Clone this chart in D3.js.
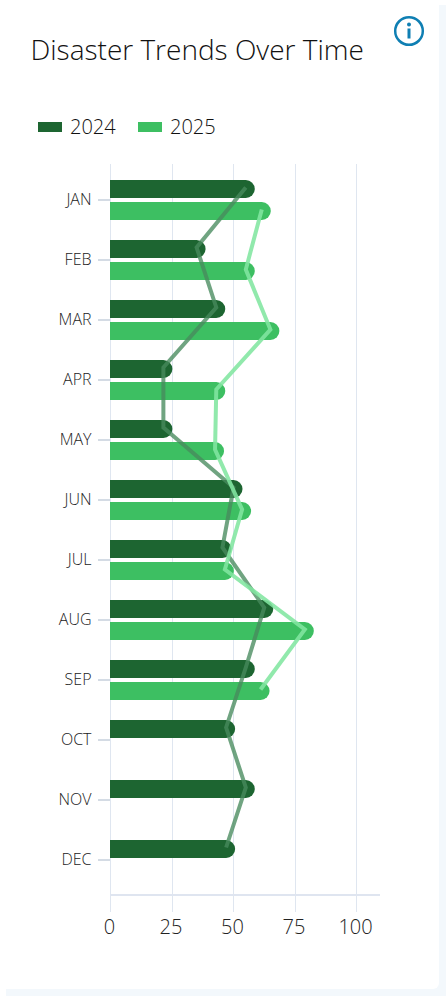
<!DOCTYPE html>
<html><head><meta charset="utf-8">
<script src="https://cdn.jsdelivr.net/npm/d3@7"></script>
<style>
html,body{margin:0;padding:0;background:#fff;width:446px;height:996px;overflow:hidden}
text{font-family:"Open Sans",sans-serif;font-weight:300}
</style></head><body>
<svg id="c" width="446" height="996"></svg>
<script>
const months=["JAN","FEB","MAR","APR","MAY","JUN","JUL","AUG","SEP","OCT","NOV","DEC"];
const years=["2024","2025"];
const values2024=[55,35,43,21.5,21.5,50,45.5,62.5,55,47,55,47];
const values2025=[61.5,55,65,43,42.5,53.5,46.5,79,61];
const xTicks=[0,25,50,75,100];
const barColors=["#1d6531","#3dbf62"];
const lineColors=["#488a5e","#82e6a0"];
const lineOpacity=[0.78,0.88];
const title="Disaster Trends Over Time";

const svg=d3.select("#c");
// page background and card
svg.append("rect").attr("width",446).attr("height",996).attr("fill","#fff");
svg.append("rect").attr("x",6).attr("y",5).attr("width",460).attr("height",1011).attr("rx",8).attr("fill","#f3f8fc");
svg.append("rect").attr("x",-12).attr("y",-12).attr("width",451).attr("height",1001).attr("rx",6).attr("fill","#fff");

svg.append("text").attr("x",30.5).attr("y",60).attr("font-size",28).attr("fill","#111").text(title);

// info icon
const icon=svg.append("g").attr("transform","translate(409,31)");
icon.append("circle").attr("r",13.8).attr("fill","none").attr("stroke","#0f7fb3").attr("stroke-width",2.5);
icon.append("circle").attr("cy",-6.5).attr("r",2).attr("fill","#0f7fb3");
icon.append("rect").attr("x",-1.5).attr("y",-2.5).attr("width",3).attr("height",10).attr("fill","#0f7fb3");

// legend
const legend=svg.append("g").selectAll("g").data(years).join("g")
  .attr("transform",(d,i)=>`translate(${38+i*100},0)`);
legend.append("rect").attr("y",122).attr("width",24).attr("height",10).attr("fill",(d,i)=>barColors[i]);
legend.append("text").attr("x",32).attr("y",134).attr("font-size",20).attr("fill","#111").text(d=>d);

const x=d3.scaleLinear().domain([0,100]).range([110.5,356.5]);
const y=d3.scaleBand().domain(months).range([170,890]);
const inner=d3.scaleBand().domain(years).range([0,40]).paddingInner(4/22);
const innerOff=(y.bandwidth()-40)/2;
const capR=inner.bandwidth()/2;

// grid
svg.append("g").selectAll("line").data(xTicks).join("line")
  .attr("x1",d=>Math.floor(x(d))+.5).attr("x2",d=>Math.floor(x(d))+.5).attr("y1",164).attr("y2",912)
  .attr("stroke","#dfe6f0").attr("stroke-width",1);

// x axis
svg.append("line").attr("x1",110).attr("x2",380).attr("y1",895).attr("y2",895)
  .attr("stroke","#dfe5f0").attr("stroke-width",2);
const xAxis=svg.append("g").attr("transform","translate(-1.5,912)")
  .call(d3.axisBottom(x).tickValues(xTicks).tickSize(0).tickPadding(7.8).tickFormat(d3.format("d")));
xAxis.select(".domain").remove();
xAxis.selectAll("text").attr("font-size",20).attr("fill","#222").attr("font-family",null);

// y axis
const yAxis=svg.append("g").attr("transform","translate(110,0)")
  .call(d3.axisLeft(y).tickSize(12).tickPadding(6.5));
yAxis.select(".domain").remove();
yAxis.selectAll("line").attr("stroke","#a9b8ca").attr("stroke-width",1);
yAxis.selectAll("text").attr("font-size",16).attr("fill","#222").attr("font-family",null);

// bars, rounded at the far end
const series=[values2024,values2025];
function barPath(v,top){
  const x0=x(0)-.5,x1=x(v),h=inner.bandwidth(),r=capR;
  return `M${x0},${top}H${x1}A${r},${r} 0 0 1 ${x1},${top+h}H${x0}Z`;
}
years.forEach((yr,i)=>{
  svg.append("g").selectAll("path").data(series[i]).join("path")
    .attr("d",(v,j)=>barPath(v,y(months[j])+innerOff+inner(yr)))
    .attr("fill",barColors[i]);
});
// trend lines through the bars
years.forEach((yr,i)=>{
  const line=d3.line()
    .x(v=>x(v))
    .y((v,j)=>y(months[j])+innerOff+inner(yr)+capR-1.5);
  svg.append("path").attr("d",line(series[i])).attr("fill","none")
    .attr("stroke",lineColors[i]).attr("stroke-opacity",lineOpacity[i]).attr("stroke-width",4).attr("stroke-linejoin","miter");
});
</script>
</body></html>
